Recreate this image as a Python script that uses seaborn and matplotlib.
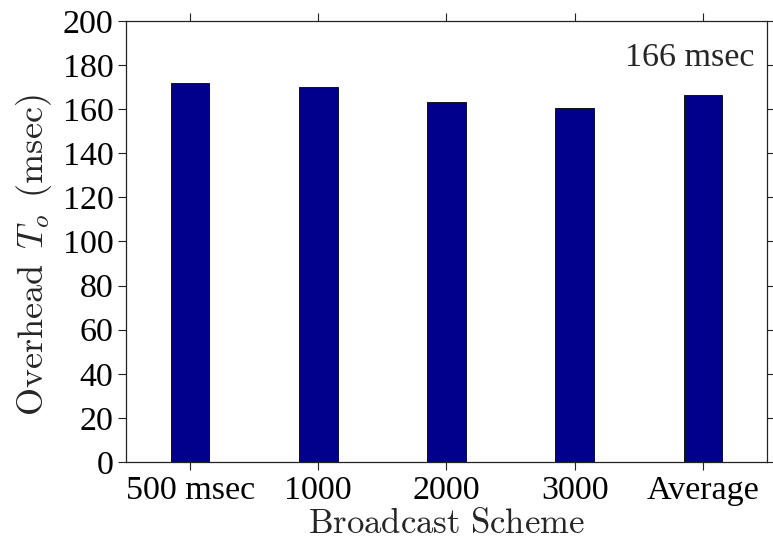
import matplotlib
matplotlib.use("Agg")
import matplotlib.pyplot as plt
import seaborn as sns
import pandas as pd

schemes = ["500 msec", "1000", "2000", "3000", "Average"]
overhead = [172.0, 170.0, 163.3, 160.6, 166.5]
y_ticks = [0, 20, 40, 60, 80, 100, 120, 140, 160, 180, 200]
note = "166 msec"

sns.set_style("white")
plt.rcParams["font.family"] = ["Liberation Serif", "DejaVu Serif"]
plt.rcParams["mathtext.fontset"] = "cm"

df = pd.DataFrame({"scheme": schemes, "overhead": overhead})

fig = plt.figure(figsize=(7.73, 5.42), dpi=100)
ax = fig.add_axes([0.163, 0.1476, 0.8292, 0.8137])

sns.barplot(data=df, x="scheme", y="overhead", color="#00008c", width=0.3,
            saturation=1, edgecolor="black", linewidth=0.6, ax=ax)

ax.set_xlim(-0.5, len(schemes) - 0.5)
ax.set_ylim(0, 200)
ax.set_yticks(y_ticks)
ax.set_yticklabels([str(t) for t in y_ticks])

for s in ax.spines.values():
    s.set_visible(True)
    s.set_color("#222222")
    s.set_linewidth(0.9)

ax.tick_params(axis="both", which="both", direction="out", length=6, width=0.8,
               colors="#222222", labelcolor="black", labelsize=24.5,
               top=True, right=True, left=True, bottom=True)
ax.tick_params(axis="x", pad=4)
ax.tick_params(axis="y", pad=3)

ax.set_xlabel(r"$\mathrm{Broadcast\ Scheme}$", fontsize=25, labelpad=1.5)
ax.set_ylabel(r"$\mathrm{Overhead}\ \,T_o\ \,\mathrm{(msec)}$", fontsize=26)
ax.yaxis.set_label_coords(-0.112, 0.468)

ax.text(0.98, 0.898, note, transform=ax.transAxes, ha="right", va="baseline",
        fontsize=24.5)

fig.savefig("out.png", dpi=100)
